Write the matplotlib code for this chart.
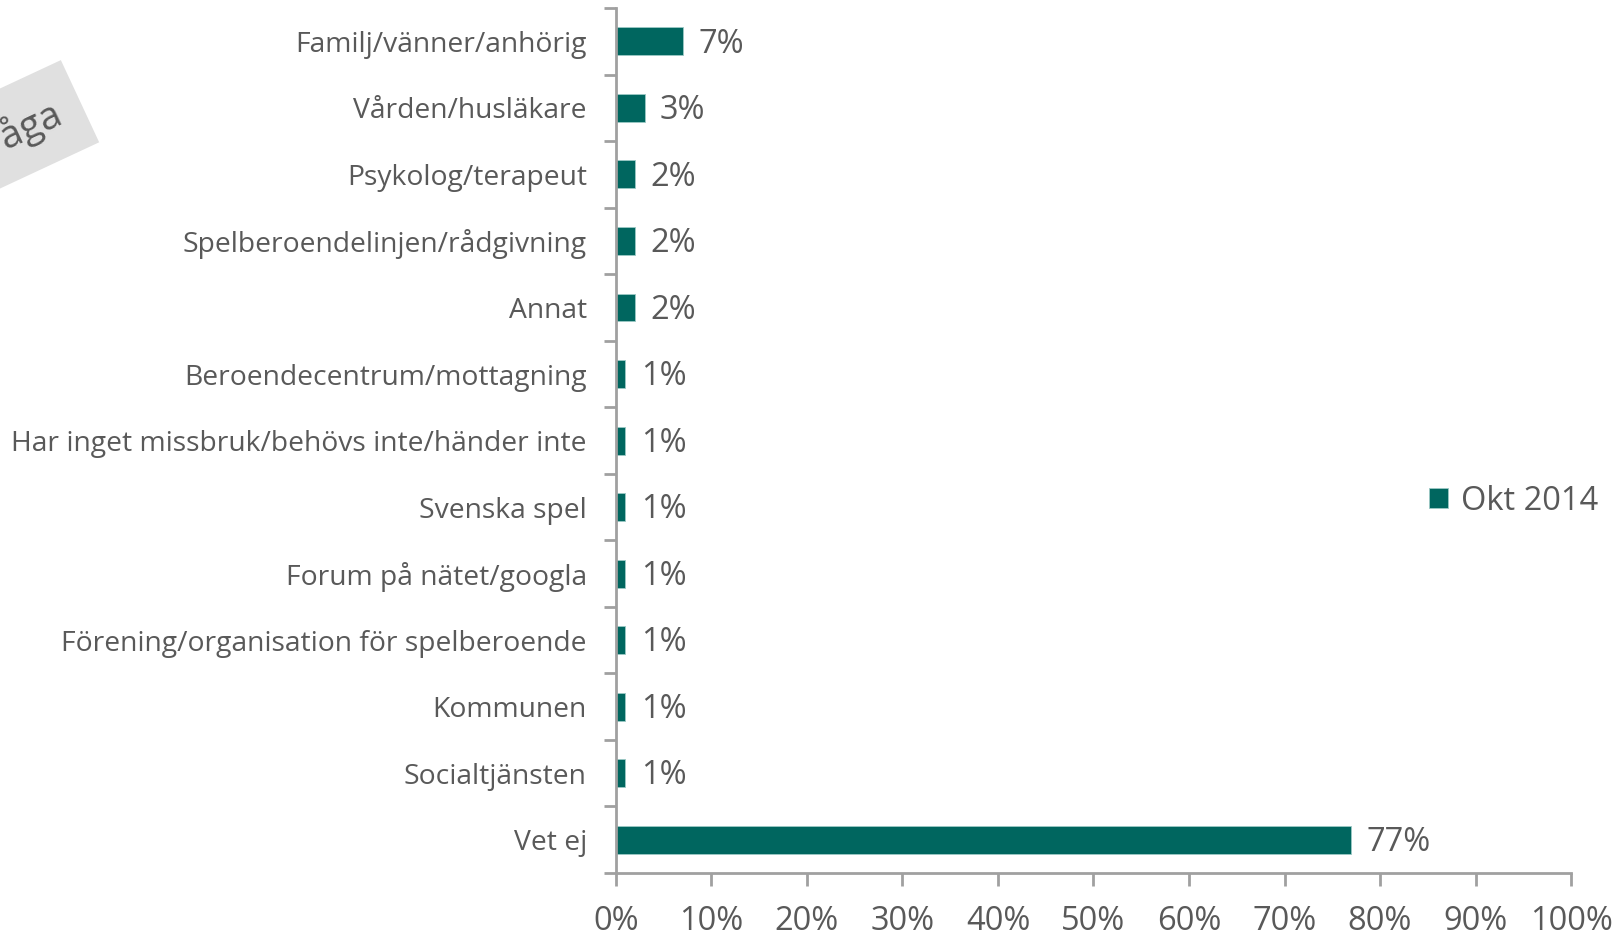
import matplotlib.pyplot as plt
import numpy as np

plt.rcParams['font.family'] = ['Open Sans', 'DejaVu Sans']

categories = ['Familj/vänner/anhörig', 'Vården/husläkare', 'Psykolog/terapeut',
              'Spelberoendelinjen/rådgivning', 'Annat', 'Beroendecentrum/mottagning',
              'Har inget missbruk/behövs inte/händer inte', 'Svenska spel',
              'Forum på nätet/googla', 'Förening/organisation för spelberoende',
              'Kommunen', 'Socialtjänsten', 'Vet ej']
values = [7, 3, 2, 2, 2, 1, 1, 1, 1, 1, 1, 1, 77]
series_name = 'Okt 2014'
xticks = list(range(0, 101, 10))

bar_color = '#00665F'
text_color = '#595959'
spine_color = '#A0A0A0'

fig = plt.figure(figsize=(16.23, 9.35), dpi=100)
ax = fig.add_axes([0.3795, 0.0663, 0.5885, 0.925])

y = np.arange(len(categories))
bars = ax.barh(y, values, height=0.42, color=bar_color, edgecolor='#9CC9C5',
               linewidth=0.6, label=series_name)
ax.set_ylim(len(categories) - 0.5, -0.5)
ax.set_xlim(0, 100)

for yi, v in zip(y, values):
    ax.annotate(f'{v}%', (v, yi), xytext=(11, -2), textcoords='offset points',
                va='center', ha='left', fontsize=23.5, color=text_color)

ax.set_xticks(xticks)
ax.set_xticklabels([f'{t}%' for t in xticks], fontsize=23.5, color=text_color)
ax.set_yticks(y)
ax.set_yticklabels(categories, fontsize=20.3, color=text_color)
ax.tick_params(axis='y', length=0, pad=21)
ax.tick_params(axis='x', length=9, width=2, color=spine_color, pad=14)
# category boundary ticks on the y axis
ax.set_yticks(np.arange(-0.5, len(categories), 1), minor=True)
ax.tick_params(axis='y', which='minor', length=9, width=2, color=spine_color)

for s in ['top', 'right']:
    ax.spines[s].set_visible(False)
for s in ['left', 'bottom']:
    ax.spines[s].set_color(spine_color)
    ax.spines[s].set_linewidth(2)

leg = ax.legend(loc='center left', bbox_to_anchor=(0.82, 0.43), frameon=False,
                fontsize=23.5, handlelength=0.6, handleheight=0.6, handletextpad=0.4)
for t in leg.get_texts():
    t.set_color(text_color)

fig.text(0.042, 0.83, 'Öppen fråga', rotation=25, ha='right', va='center',
         fontsize=28, color=text_color,
         bbox=dict(boxstyle='square,pad=0.6', facecolor='#E0E0E0', edgecolor='none'))

fig.savefig('out.png', dpi=100)
